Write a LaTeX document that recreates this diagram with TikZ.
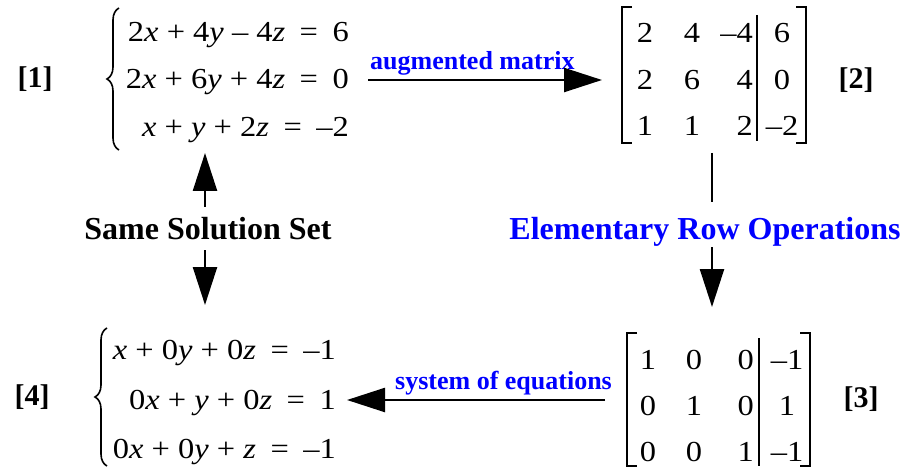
\documentclass[tikz,border=0pt]{standalone}
\usepackage{fontspec}
\setmainfont{Liberation Serif}
\newfontfamily\eqfont[FakeStretch=1.12]{Liberation Serif}
\usetikzlibrary{arrows.meta,decorations.pathreplacing}
\newcommand\xv{\textit{x}}
\newcommand\yv{\textit{y}}
\newcommand\zv{\textit{z}}
\newcommand\eqs{\enspace=\enspace}
\begin{document}
\begin{tikzpicture}[x=1pt,y=-1pt,
  eqrow/.style={font=\eqfont\fontsize{29}{34}\selectfont, inner sep=0pt, anchor=base east},
  ent/.style={font=\eqfont\fontsize{29}{34}\selectfont, inner sep=0pt, anchor=base},
  entr/.style={ent, anchor=base east},
  tag/.style={font=\bfseries\fontsize{30}{34}\selectfont, inner sep=0pt},
  biglbl/.style={font=\bfseries\fontsize{32}{36}\selectfont, inner sep=0pt, anchor=base},
  smalllbl/.style={font=\bfseries\fontsize{26}{30}\selectfont, inner sep=0pt, text=blue, anchor=base west},
  arr/.style={line width=2.4pt, -{Triangle[length=38pt,width=24pt]}},
  plainline/.style={line width=2.4pt},
  brk/.style={line width=1.3pt},
  brc/.style={line width=1.6pt, decorate, decoration={brace, amplitude=12pt}}
]
\useasboundingbox (0,0) rectangle (903,468);
% tags
\node[tag] (t1) at (35,79) {[1]};
\node[tag] (t2) at (856,80) {[2]};
\node[tag] (t3) at (861,399) {[3]};
\node[tag] (t4) at (32,397) {[4]};
% system 1
\draw[brc] (119,150) -- (119,8);
\node[eqrow] (s1a) at (349,42) {2\xv{} + 4\yv{} – 4\zv\eqs 6};
\node[eqrow] (s1b) at (349,89) {2\xv{} + 6\yv{} + 4\zv\eqs 0};
\node[eqrow] (s1c) at (349,137) {\xv{} + \yv{} + 2\zv\eqs –2};
% system 4
\draw[brc] (107,466) -- (107,328);
\node[eqrow] (s4a) at (336,359) {\xv{} + 0\yv{} + 0\zv\eqs –1};
\node[eqrow] (s4b) at (336,409) {0\xv{} + \yv{} + 0\zv\eqs 1};
\node[eqrow] (s4c) at (336,458) {0\xv{} + 0\yv{} + \zv\eqs –1};
% matrix 2
\draw[brk] (632,7) -- (622,7) -- (622,143) -- (632,143);
\draw[brk] (796,7) -- (806,7) -- (806,143) -- (796,143);
\draw[brk] (757,15) -- (757,141);
\node[ent] (m2a1) at (645,43) {2};
\node[ent] (m2a2) at (692,43) {4};
\node[entr] (m2a3) at (753,43) {–4};
\node[ent] (m2a4) at (782,43) {6};
\node[ent] (m2b1) at (645,90) {2};
\node[ent] (m2b2) at (692,90) {6};
\node[entr] (m2b3) at (753,90) {4};
\node[ent] (m2b4) at (782,90) {0};
\node[ent] (m2c1) at (645,136) {1};
\node[ent] (m2c2) at (692,136) {1};
\node[entr] (m2c3) at (753,136) {2};
\node[ent] (m2c4) at (782,136) {–2};
% matrix 3
\draw[brk] (637,333) -- (627,333) -- (627,466) -- (637,466);
\draw[brk] (800,333) -- (810,333) -- (810,466) -- (800,466);
\draw[brk] (759,338) -- (759,466);
\node[ent] (m3a1) at (648,369) {1};
\node[ent] (m3a2) at (694,369) {0};
\node[entr] (m3a3) at (754,369) {0};
\node[ent] (m3a4) at (787,369) {–1};
\node[ent] (m3b1) at (648,415) {0};
\node[ent] (m3b2) at (694,415) {1};
\node[entr] (m3b3) at (754,415) {0};
\node[ent] (m3b4) at (787,415) {1};
\node[ent] (m3c1) at (648,461) {0};
\node[ent] (m3c2) at (694,461) {0};
\node[entr] (m3c3) at (754,461) {1};
\node[ent] (m3c4) at (787,461) {–1};
% labels
\node[smalllbl] (lam) at (370,70) {augmented matrix};
\node[smalllbl] (lse) at (395,389) {system of equations};
\node[biglbl] (same) at (208,240) {Same Solution Set};
\node[biglbl, text=blue] (ero) at (705,240) {Elementary Row Operations};
% connectors
\coordinate (a1s) at (368,80);
\coordinate (a1e) at (602,80);
\draw[arr] (a1s) -- (a1e);
\coordinate (a2s) at (605,400);
\coordinate (a2e) at (347,400);
\draw[arr] (a2s) -- (a2e);
\coordinate (u1s) at (205,207);
\coordinate (u1e) at (205,153);
\draw[arr] (u1s) -- (u1e);
\coordinate (d1s) at (205,250);
\coordinate (d1e) at (205,305);
\draw[arr] (d1s) -- (d1e);
\coordinate (r1s) at (712,153);
\coordinate (r1e) at (712,202);
\draw[plainline] (r1s) -- (r1e);
\coordinate (d2s) at (712,247);
\coordinate (d2e) at (712,307);
\draw[arr] (d2s) -- (d2e);
\end{tikzpicture}
\end{document}
